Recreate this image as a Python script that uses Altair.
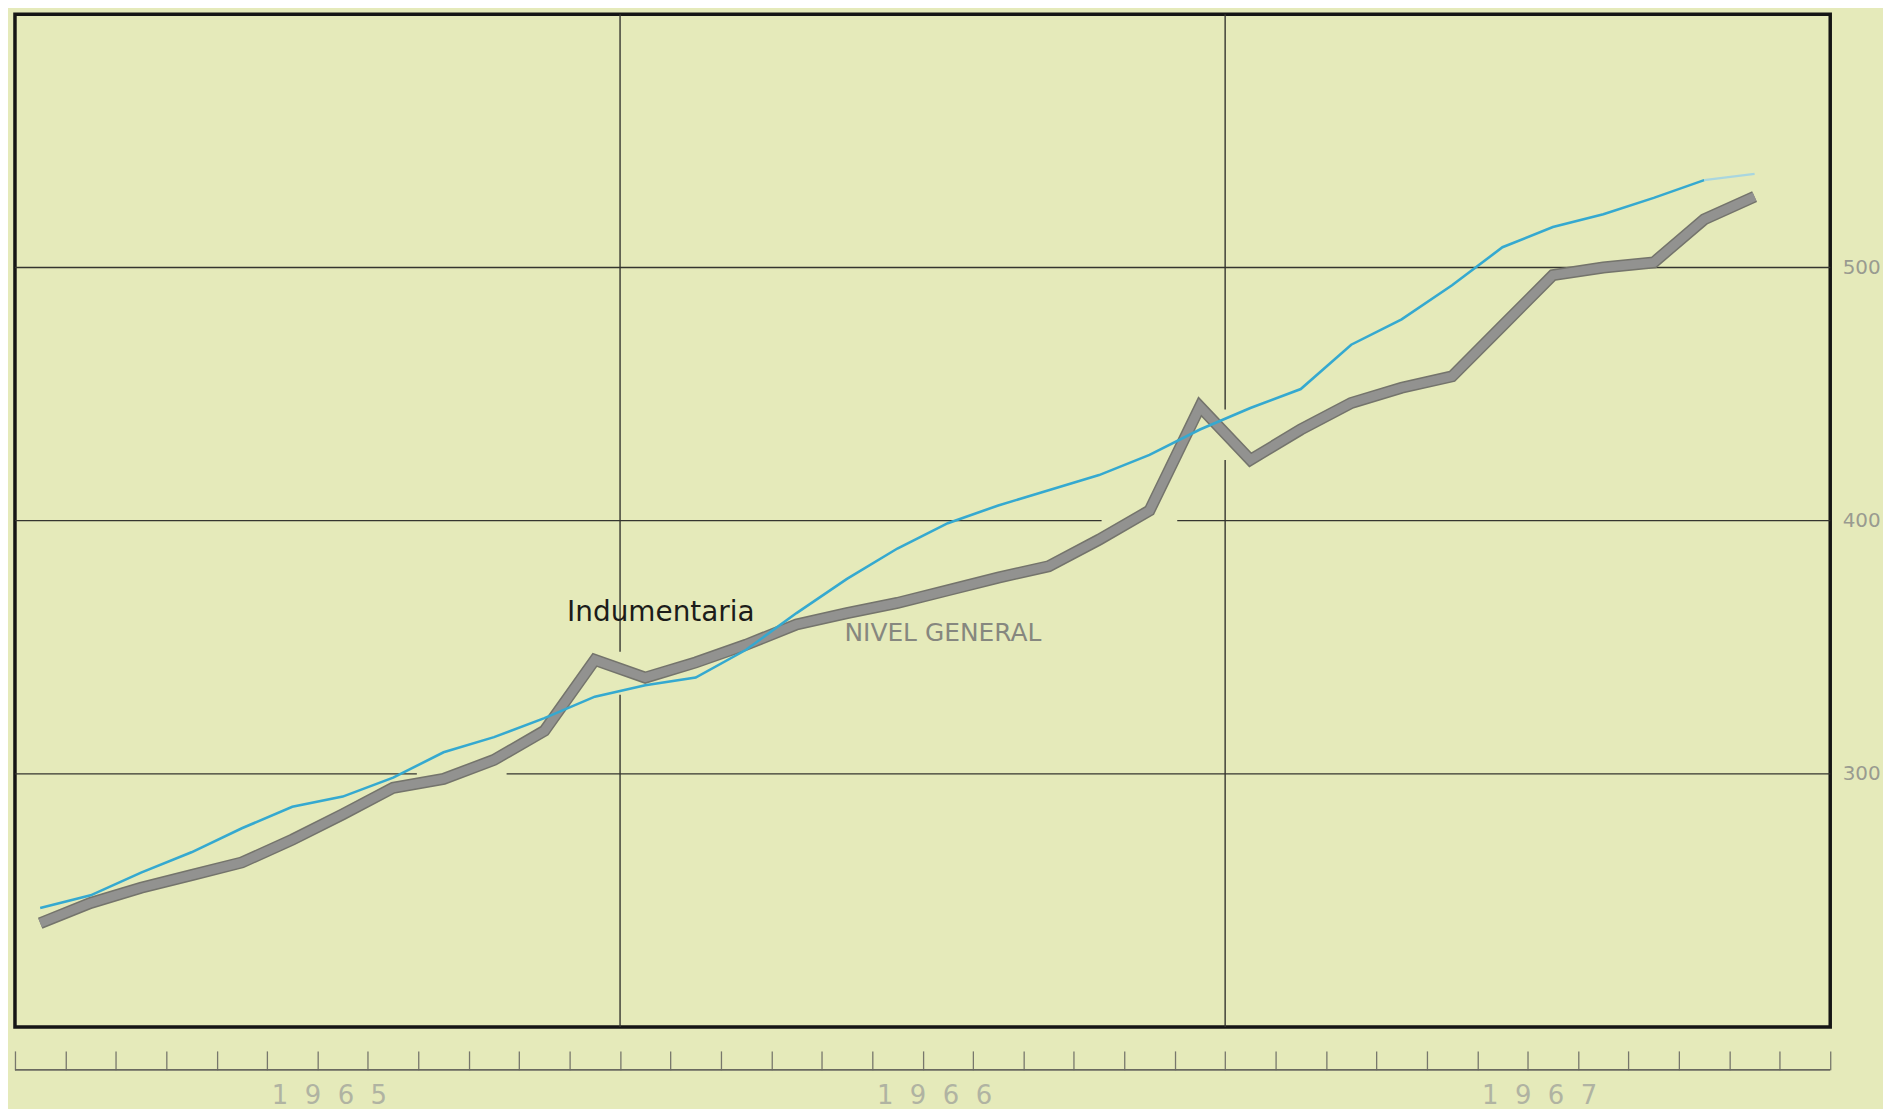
import altair as alt
import pandas as pd

# ---------------- data ----------------
years = ["1965", "1966", "1967"]
month_names = ["Ene", "Feb", "Mar", "Abr", "May", "Jun",
               "Jul", "Ago", "Sep", "Oct", "Nov", "Dic"]
month_labels = [f"{m} {y}" for y in years for m in month_names][:35]  # Ene 1965 .. Nov 1967

nivel_general = [241, 249, 255, 260, 265, 274, 284, 294.5, 298, 305.5, 317, 345,
                 338, 344, 351, 359, 363.5, 367.5, 372.5, 377.5, 382, 392.5, 404, 445,
                 424, 436, 446.5, 452.5, 457, 477, 497, 500, 502, 519, 528]

indumentaria = [247, 252, 261, 269, 278.5, 287, 291, 298.5, 308.5, 314.5, 322, 330.5,
                335, 338, 349, 363.5, 377, 389, 399, 406, 412, 418, 426, 436,
                444.5, 452, 469.5, 479.5, 493, 508, 516, 521, 527.5, 534.5, 537]

y_ticks = [300, 400, 500]

# grid segments (data units: month index / index value), with the gaps of the original drawing
hgrid_y = [500, 400, 400, 300, 300]
hgrid_x1 = [0, 0, 23.05, 0, 9.75]
hgrid_x2 = [36, 21.55, 36, 7.97, 36]

vgrid_x = [12, 12, 24, 24]
vgrid_y1 = [200, 348.2, 200, 443.9]
vgrid_y2 = [331.2, 600, 424, 600]

# ---------------- tables ----------------
NB = "\u00a0\u00a0"  # letter-spacing of the printed year labels
df = pd.DataFrame({
    "mes": month_labels,
    "pos": [i + 0.5 for i in range(len(month_labels))],
    "idx": list(range(len(month_labels))),
    "nivel": nivel_general,
    "indu": indumentaria,
})
hgrid = pd.DataFrame({"y": hgrid_y, "x1": hgrid_x1, "x2": hgrid_x2})
vgrid = pd.DataFrame({"x": vgrid_x, "y1": vgrid_y1, "y2": vgrid_y2})
year_df = pd.DataFrame({"year": years,
                        "label": [NB.join(y) for y in years],
                        "mid": [12 * k + 6 for k in range(len(years))]})
ruler_df = pd.DataFrame({"a": [0], "b": [36]})
lab_indu = pd.DataFrame({"t": ["Indumentaria"], "x": [10.95], "y": [363.5]})
lab_nivel = pd.DataFrame({"t": ["NIVEL GENERAL"], "x": [16.45], "y": [355.5]})

W, H = 1823, 1017
BG = "#e5eaba"

x_scale = alt.Scale(domain=[0, 36], nice=False, zero=False)
y_scale = alt.Scale(domain=[200, 600], nice=False, zero=False)

x_axis = alt.Axis(values=list(range(37)), labels=False, domain=False, grid=False,
                  ticks=True, tickSize=19, tickColor="#77776c", tickWidth=1.3,
                  offset=24, title=None)
y_axis = alt.Axis(orient="right", values=y_ticks, domain=False, ticks=False, grid=False,
                  labelColor="#999b90", labelFontSize=20, labelPadding=12,
                  labelFont="DejaVu Sans", title=None)


def X(f, **kw):
    return alt.X(f, scale=x_scale, axis=x_axis, **kw)


def Y(f, **kw):
    return alt.Y(f, scale=y_scale, axis=y_axis, **kw)


grid_h = alt.Chart(hgrid).mark_rule(color="#35352f", strokeWidth=1.4).encode(
    x=X("x1:Q"), x2="x2:Q", y=Y("y:Q"))
grid_v = alt.Chart(vgrid).mark_rule(color="#35352f", strokeWidth=1.4).encode(
    x=X("x:Q"), y=Y("y1:Q"), y2="y2:Q")

grey_edge = alt.Chart(df).mark_line(color="#74746c", strokeWidth=12,
                                    strokeJoin="miter", strokeCap="butt").encode(
    x=X("pos:Q"), y=Y("nivel:Q"), order="idx:Q")
grey_fill = alt.Chart(df).mark_line(color="#929290", strokeWidth=9,
                                    strokeJoin="miter", strokeCap="butt").encode(
    x=X("pos:Q"), y=Y("nivel:Q"), order="idx:Q")

blue_main = alt.Chart(df).transform_filter(alt.datum.idx <= 33).mark_line(
    color="#35a9d0", strokeWidth=2.6).encode(x=X("pos:Q"), y=Y("indu:Q"), order="idx:Q")
blue_last = alt.Chart(df).transform_filter(alt.datum.idx >= 33).mark_line(
    color="#a9d6df", strokeWidth=2.4).encode(x=X("pos:Q"), y=Y("indu:Q"), order="idx:Q")

t_indu = alt.Chart(lab_indu).mark_text(align="left", baseline="middle", fontSize=28,
                                       font="DejaVu Sans", color="#1c1c1a").encode(
    x=X("x:Q"), y=Y("y:Q"), text="t:N")
t_nivel = alt.Chart(lab_nivel).mark_text(align="left", baseline="middle", fontSize=25,
                                         font="DejaVu Sans", color="#86877f").encode(
    x=X("x:Q"), y=Y("y:Q"), text="t:N")

ruler = alt.Chart(ruler_df).mark_rule(color="#6a6a60", strokeWidth=1.8).encode(
    x=X("a:Q"), x2="b:Q", y=alt.value(H + 43))

year_text = alt.Chart(year_df).mark_text(baseline="middle", align="center", fontSize=26,
                                         dx=12, font="DejaVu Sans", color="#b0b3a2").encode(
    x=X("mid:Q"), y=alt.value(H + 69), text="label:N")

chart = alt.layer(grid_h, grid_v, grey_edge, grey_fill, blue_main, blue_last,
                  t_indu, t_nivel, ruler, year_text).properties(
    width=W, height=H,
    padding={"left": 7, "top": 4, "right": 53, "bottom": 80},
    autosize=alt.AutoSizeParams(type="none"),
    background=BG,
).configure_view(fill=BG, stroke="#151515", strokeWidth=3.5)

chart.save("out.html", embed_options={"renderer": "svg", "actions": False})
